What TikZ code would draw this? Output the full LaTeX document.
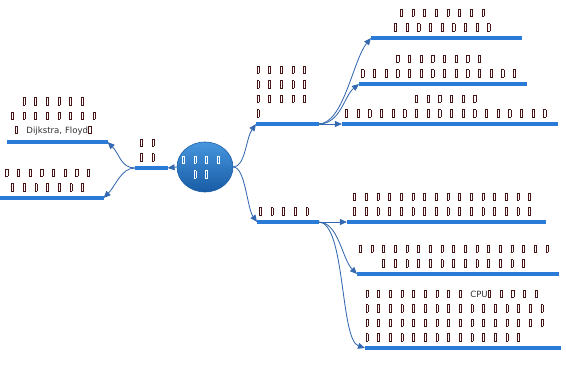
\documentclass[tikz,border=0pt]{standalone}
\usepackage{fontspec}
\setsansfont{DejaVu Sans}
\usetikzlibrary{arrows.meta,shapes.geometric}
\definecolor{linea}{RGB}{42,122,216}
\definecolor{conector}{RGB}{52,104,176}
\definecolor{tofucol}{RGB}{70,20,20}
\definecolor{textogris}{RGB}{50,50,50}
\definecolor{nucleoarriba}{RGB}{70,150,222}
\definecolor{nucleoabajo}{RGB}{24,92,165}
\newcommand{\tofu}[1][tofucol]{\makebox[8.3pt][l]{\hspace{0.2pt}\textcolor{#1}{\fboxsep=0pt\fboxrule=0.45pt\fbox{\rule{0pt}{4.8pt}\rule{1.1pt}{0pt}}}}}
\newcommand{\tofus}[2][tofucol]{\foreach \k in {1,...,#2}{\tofu[#1]}}
\tikzset{
  tema/.style={anchor=south west, inner xsep=0pt, inner ysep=4.6pt, align=center,
    font=\sffamily\fontsize{6.1}{10.3}\selectfont, text=textogris},
  subrayado/.style={linea, line width=2.4pt},
  conexion/.style={conector, line width=0.6pt, -{Triangle[length=5pt,width=4.2pt]}},
}

\begin{document}
\begin{tikzpicture}[x=0.025cm, y=-0.025cm]
  \useasboundingbox (0,0) rectangle (566,369);
  \node[ellipse, minimum width=1.4cm, minimum height=1.25cm, inner xsep=-2.6pt, inner ysep=0pt, top color=nucleoarriba, bottom color=nucleoabajo,
    draw=nucleoabajo, align=center, font=\fontsize{6.1}{10.6}\selectfont] (nucleo) at (205,167) {\tofus[white]{4}\\\tofus[white]{2}};
  \node[tema, text width=2.5cm] (TL) at (7,142) {\tofus{6}\\\tofus{8}\\\tofu Dijkstra, Floyd\tofu};
  \node[tema, text width=2.575cm] (BL) at (0,198) {\tofus{8}\\\tofus{7}};
  \node[tema, text width=0.8cm] (L) at (135,168) {\tofus{2}\\\tofus{2}};
  \node[tema, text width=1.55cm, align=left] (U) at (256,124) {\tofus{5}\\\tofus{5}\\\tofus{5}\\\tofu};
  \node[tema, text width=1.525cm] (D) at (257,222) {\tofus{5}};
  \node[tema, text width=3.75cm] (R1) at (371,38) {\tofus{8}\\\tofus{9}};
  \node[tema, text width=4.175cm] (R2) at (359,84) {\tofus{8}\\\tofus{14}};
  \node[tema, text width=5.375cm] (R3) at (342,124) {\tofus{6}\\\tofus{18}};
  \node[tema, text width=4.95cm] (S1) at (347,222) {\tofus{16}\\\tofus{16}};
  \node[tema, text width=5.025cm] (S2) at (357,274) {\tofus{17}\\\tofus{13}};
  \node[tema, text width=4.875cm, align=left] (S3) at (365,348) {\tofus{9}CPU\tofus{5}\\\tofus{16}\\\tofus{16}\\\tofus{14}};
  \draw[conexion] (nucleo.west) -- (L.south east);
  \draw[conexion] (L.south west) .. controls +(-14,0) and +(12,12) .. (TL.south east);
  \draw[conexion] (L.south west) .. controls +(-14,0) and +(12,-12) .. (BL.south east);
  \draw[conexion] (nucleo.east) .. controls +(12,0) and +(-10,14) .. (U.south west);
  \draw[conexion] (nucleo.east) .. controls +(12,0) and +(-10,-14) .. (D.south west);
  \draw[conexion] (U.south east) .. controls +(25,0) and +(-18,22) .. (R1.south west);
  \draw[conexion] (U.south east) .. controls +(22,0) and +(-15,12) .. (R2.south west);
  \draw[conexion] (U.south east) -- (R3.south west);
  \draw[conexion] (D.south east) -- (S1.south west);
  \draw[conexion] (D.south east) .. controls +(20,0) and +(-15,-15) .. (S2.south west);
  \draw[conexion] (D.south east) .. controls +(27,0) and +(-25,-8) .. (S3.south west);
  \foreach \n in {TL,BL,L,U,D,R1,R2,R3,S1,S2,S3}
    \draw[subrayado] (\n.south west) -- (\n.south east);
\end{tikzpicture}
\end{document}
